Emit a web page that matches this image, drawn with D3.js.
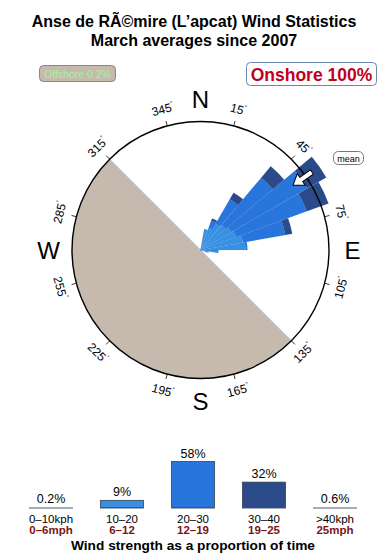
<!DOCTYPE html>
<html>
<head>
<meta charset="utf-8">
<script src="https://cdn.jsdelivr.net/npm/d3@7"></script>
<style>
  html, body { margin: 0; padding: 0; background: #fff; }
  svg { display: block; font-family: "Liberation Sans", Arial, Helvetica, sans-serif; }
</style>
</head>
<body>
<svg id="chart" width="390" height="560"></svg>
<script>
// rose petals: direction bins (deg) and band extents (percent of the outer ring)
const directions = [15, 25, 35, 45, 55, 65, 75, 85, 95, 105];
const bandKeys = ['0-10', '10-20', '20-30', '30-40', '>40'];
const band0to10 = [1.5, 1.5, 1.5, 1.5, 1.5, 1.5, 1.5, 1.5, 1.5, 1];
const band10to20 = [15, 17, 22, 24, 26, 28, 32, 33.5, 12.5, 5.5];
const band20to30 = [0, 6, 22, 48, 68.5, 58.5, 33.5, 1.5, 0, 0];
const band30to40 = [0, 1.5, 6, 11.5, 17, 18, 5.5, 0, 0, 0];
const band40plus = [0, 0, 0, 0, 0, 0, 0, 0, 0, 0];
const meanDirection = 55;

// ring tick labels
const tickAngles = [15, 45, 75, 105, 135, 165, 195, 225, 255, 285, 315, 345];
const compass = [['N', 0], ['E', 90], ['S', 180], ['W', 270]];

// strength histogram
const strengthCats = ['0-10', '10-20', '20-30', '30-40', '>40'];
const strengthPct = [0.2, 9, 58, 32, 0.6];
const strengthLabels = ['0.2%', '9%', '58%', '32%', '0.6%'];
const kphLabels = ['0\u201310kph', '10\u201320', '20\u201330', '30\u201340', '>40kph'];
const mphLabels = ['0\u20136mph', '6\u201312', '12\u201319', '19\u201325', '25mph'];

const colors = {
  '0-10': '#3cbcf2',
  '10-20': '#3790e2',
  '20-30': '#2875dc',
  '30-40': '#2b4a8a',
  '>40': '#8a96a4'
};

const svg = d3.select('#chart');

// titles
svg.append('text')
  .attr('x', 194).attr('y', 27)
  .attr('text-anchor', 'middle')
  .style('font-size', '16px').style('font-weight', 'bold')
  .text('Anse de R\u00c3\u00a9mire (L\u2019apcat) Wind Statistics');
svg.append('text')
  .attr('x', 194).attr('y', 46)
  .attr('text-anchor', 'middle')
  .style('font-size', '16px').style('font-weight', 'bold')
  .text('March averages since 2007');

// offshore / onshore boxes
svg.append('rect')
  .attr('x', 39.5).attr('y', 65.5).attr('width', 76).attr('height', 16).attr('rx', 4)
  .attr('fill', '#c5baad').attr('stroke', '#8c8680');
svg.append('text')
  .attr('x', 77.5).attr('y', 77.5).attr('text-anchor', 'middle')
  .style('font-size', '10.5px').attr('fill', '#a6f29c')
  .text('Offshore 0.2%');

svg.append('rect')
  .attr('x', 246.5).attr('y', 62.5).attr('width', 130).attr('height', 23).attr('rx', 4)
  .attr('fill', '#fff').attr('stroke', '#6a86a8');
svg.append('text')
  .attr('x', 311.5).attr('y', 80.5).attr('text-anchor', 'middle')
  .style('font-size', '17.5px').style('font-weight', 'bold').attr('fill', '#c0001e')
  .text('Onshore 100%');

// rose
const cx = 200.5, cy = 250, R = 128.5;
const rScale = d3.scaleLinear().domain([0, 100]).range([0, R]);
const rad = deg => deg * Math.PI / 180;
const polar = (deg, r) => [cx + r * Math.sin(rad(deg)), cy - r * Math.cos(rad(deg))];

const rose = svg.append('g');

// land half (offshore side) from 135 through 315
const land = d3.arc()
  .innerRadius(0).outerRadius(R)
  .startAngle(rad(135)).endAngle(rad(315));
rose.append('path')
  .attr('transform', `translate(${cx},${cy})`)
  .attr('d', land())
  .attr('fill', '#c5baad');
const p1 = polar(135, R), p2 = polar(315, R);
rose.append('line')
  .attr('x1', p1[0]).attr('y1', p1[1]).attr('x2', p2[0]).attr('y2', p2[1])
  .attr('stroke', '#a9bfd2').attr('stroke-width', 1);

// stacked petals
const rows = directions.map((dir, i) => ({
  dir,
  '0-10': band0to10[i],
  '10-20': band10to20[i],
  '20-30': band20to30[i],
  '30-40': band30to40[i],
  '>40': band40plus[i]
}));
const stacked = d3.stack().keys(bandKeys)(rows);
const petalArc = d3.arc();

rose.append('g')
  .attr('transform', `translate(${cx},${cy})`)
  .selectAll('g')
  .data(stacked)
  .join('g')
  .attr('fill', s => colors[s.key])
  .selectAll('path')
  .data(s => s.filter(d => d[1] > d[0]))
  .join('path')
  .attr('d', d => petalArc({
    innerRadius: rScale(d[0]),
    outerRadius: rScale(d[1]),
    startAngle: rad(d.data.dir - 5),
    endAngle: rad(d.data.dir + 5)
  }))
  .attr('stroke', '#2468cc')
  .attr('stroke-opacity', 0.2)
  .attr('stroke-width', 0.5);

// outer ring
rose.append('circle')
  .attr('cx', cx).attr('cy', cy).attr('r', R)
  .attr('fill', 'none').attr('stroke', '#000').attr('stroke-width', 1.4);

// ticks and degree labels
tickAngles.forEach(a => {
  const t0 = polar(a, R), t1 = polar(a, R + 5);
  rose.append('line')
    .attr('x1', t0[0]).attr('y1', t0[1]).attr('x2', t1[0]).attr('y2', t1[1])
    .attr('stroke', '#000').attr('stroke-width', 0.8);
  const [lx, ly] = polar(a, R + 17);
  const rot = a < 90 ? a : (a < 270 ? a - 180 : a - 360);
  const txt = rose.append('text')
    .attr('transform', `translate(${lx},${ly}) rotate(${rot})`)
    .attr('text-anchor', 'middle')
    .attr('dominant-baseline', 'central')
    .style('font-size', '12px');
  txt.append('tspan').text(a);
  txt.append('tspan').attr('dy', -4).style('font-size', '6px').text('\u00b0');
});

// compass letters
compass.forEach(([letter, a]) => {
  const [lx, ly] = polar(a, a % 180 === 0 ? 151 : 152);
  rose.append('text')
    .attr('x', lx).attr('y', ly)
    .attr('text-anchor', 'middle')
    .attr('dominant-baseline', 'central')
    .style('font-size', '24px')
    .text(letter);
});

// mean arrow (pointing to the centre)
const arrow = rose.append('g')
  .attr('transform', `translate(${cx},${cy}) rotate(${meanDirection})`);
const arrowPts = [[0, -113], [-7, -123], [-2.5, -123], [-2.5, -136], [2.5, -136], [2.5, -123], [7, -123]];
arrow.append('path')
  .attr('d', d3.line()(arrowPts) + 'Z')
  .attr('fill', '#fff').attr('stroke', '#000').attr('stroke-width', 1);

svg.append('rect')
  .attr('x', 333.5).attr('y', 151.5).attr('width', 30).attr('height', 13).attr('rx', 5)
  .attr('fill', '#fff').attr('stroke', '#777');
svg.append('text')
  .attr('x', 348.5).attr('y', 161.5).attr('text-anchor', 'middle')
  .style('font-size', '9px').text('mean');

// strength histogram
const x = d3.scaleBand()
  .domain(strengthCats)
  .range([15.5, 370.5])
  .paddingInner(0.38)
  .paddingOuter(0.19);
const y = d3.scaleLinear().domain([0, 58]).range([507.5, 461.5]);

const bars = svg.append('g');
bars.selectAll('line.base')
  .data(strengthCats)
  .join('line')
  .attr('class', 'base')
  .attr('x1', d => x(d)).attr('x2', d => x(d) + x.bandwidth())
  .attr('y1', y(0) + 0.5).attr('y2', y(0) + 0.5)
  .attr('stroke', '#a3adb8').attr('stroke-width', 2);

bars.selectAll('rect')
  .data(strengthCats.filter((d, i) => strengthPct[i] >= 1))
  .join('rect')
  .attr('x', d => x(d) + 0.5)
  .attr('y', d => y(strengthPct[strengthCats.indexOf(d)]))
  .attr('width', x.bandwidth() - 1)
  .attr('height', d => y(0) - y(strengthPct[strengthCats.indexOf(d)]))
  .attr('fill', d => colors[d])
  .attr('stroke', '#39424e').attr('stroke-width', 0.8);

bars.selectAll('text.pct')
  .data(strengthCats)
  .join('text')
  .attr('class', 'pct')
  .attr('x', d => x(d) + x.bandwidth() / 2)
  .attr('y', (d, i) => y(strengthPct[i]) - 4)
  .attr('text-anchor', 'middle')
  .style('font-size', '12.5px')
  .text((d, i) => strengthLabels[i]);

bars.selectAll('text.kph')
  .data(strengthCats)
  .join('text')
  .attr('class', 'kph')
  .attr('x', d => x(d) + x.bandwidth() / 2)
  .attr('y', 522.5)
  .attr('text-anchor', 'middle')
  .style('font-size', '11.5px')
  .text((d, i) => kphLabels[i]);

bars.selectAll('text.mph')
  .data(strengthCats)
  .join('text')
  .attr('class', 'mph')
  .attr('x', d => x(d) + x.bandwidth() / 2)
  .attr('y', 533.5)
  .attr('text-anchor', 'middle')
  .style('font-size', '11.5px').style('font-weight', 'bold')
  .attr('fill', '#7c1414')
  .text((d, i) => mphLabels[i]);

svg.append('text')
  .attr('x', 193).attr('y', 550)
  .attr('text-anchor', 'middle')
  .style('font-size', '13.7px').style('font-weight', 'bold')
  .text('Wind strength as a proportion of time');
</script>
</body>
</html>
